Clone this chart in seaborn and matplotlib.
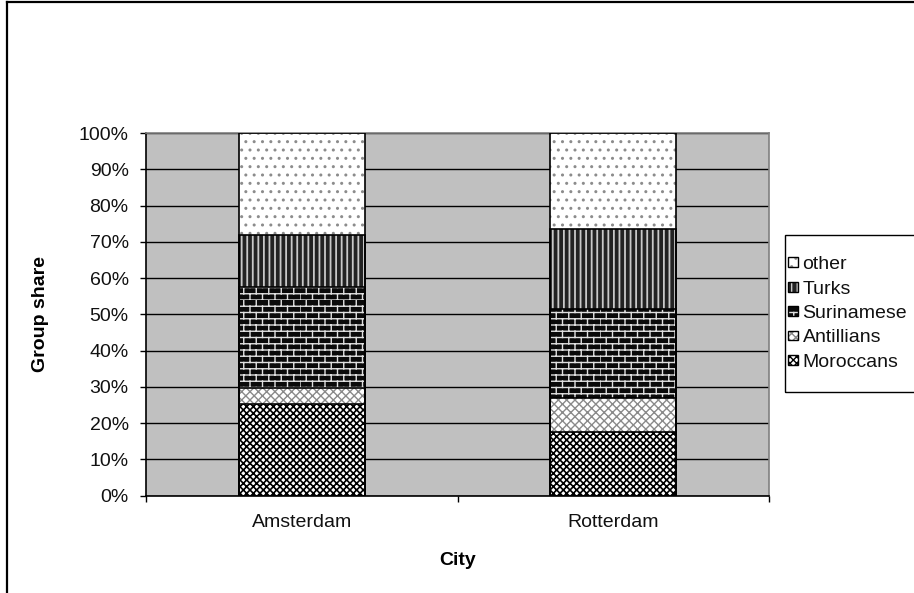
import warnings
import numpy as np
import pandas as pd
import matplotlib
matplotlib.use("Agg")
import matplotlib.pyplot as plt
import matplotlib.hatch as mhatch
from matplotlib.path import Path
from matplotlib.patches import Patch, Rectangle
from matplotlib.lines import Line2D
from matplotlib.legend_handler import HandlerBase
from matplotlib.ticker import PercentFormatter, FixedLocator
import seaborn as sns

warnings.filterwarnings("ignore")

# ---- data (share of each group, in percent) ----
cities = ["Amsterdam", "Rotterdam"]
groups = ["Moroccans", "Antillians", "Surinamese", "Turks", "other"]
moroccans = [25.3, 17.5]
antillians = [4.3, 9.4]
surinamese = [27.9, 24.7]
turks = [14.5, 21.8]
other = [28.0, 26.6]
y_ticks = [0, 10, 20, 30, 40, 50, 60, 70, 80, 90, 100]


# ---- a brick hatch ('b') for the Surinamese segments ----
class BrickHatch(mhatch.HatchPatternBase):
    rows = 16
    cols = 8

    def __init__(self, hatch, density):
        self.on = "b" in hatch
        self.num_vertices = (2 * self.rows + 2 * self.rows * self.cols) if self.on else 0

    def set_vertices_and_codes(self, vertices, codes):
        k = 0
        for i in range(self.rows):
            y = i / self.rows
            vertices[k] = (0.0, y)
            vertices[k + 1] = (1.0, y)
            codes[k] = Path.MOVETO
            codes[k + 1] = Path.LINETO
            k += 2
        for i in range(self.rows):
            y0 = i / self.rows
            y1 = (i + 1) / self.rows
            shift = 0.5 * (i % 2)
            for j in range(self.cols):
                x = ((j + shift) / self.cols) % 1.0
                vertices[k] = (x, y0)
                vertices[k + 1] = (x, y1)
                codes[k] = Path.MOVETO
                codes[k + 1] = Path.LINETO
                k += 2


mhatch._hatch_types.append(BrickHatch)

plt.rcParams["font.family"] = ["Liberation Sans", "DejaVu Sans"]
plt.rcParams["hatch.linewidth"] = 1.0

FS = 14

# face colour, hatch, hatch colour, hatch line width
styles = {
    "Moroccans": ("white", "xxxxx", "black", 1.2),
    "Antillians": ("white", "xxxx", "#8a8a8a", 1.0),
    "Surinamese": ("#0a0a0a", "b", "#e0e0e0", 1.0),
    "Turks": ("#222222", "|||", "#c8c8c8", 1.3),
    "other": ("white", "..", "#8c8c8c", 1.0),
}

df = pd.DataFrame({
    "City": cities,
    "Moroccans": moroccans,
    "Antillians": antillians,
    "Surinamese": surinamese,
    "Turks": turks,
    "other": other,
})
cum = df[groups].cumsum(axis=1)
for g in groups:
    df["cum_" + g] = cum[g]

W, H, DPI = 914, 593, 100
fig = plt.figure(figsize=(W / DPI, H / DPI), dpi=DPI)
ax = fig.add_axes([146 / W, 1 - 495.7 / H, (769 - 146) / W, (495.7 - 133) / H])
ax.set_facecolor("#c0c0c0")

# stacked bars: tallest cumulative first, lower segments drawn over it
outline_boxes = []
for g in reversed(groups):
    face, hatch, hcol, hlw = styles[g]
    n0 = len(ax.patches)
    sns.barplot(data=df, x="City", y="cum_" + g, color=face, width=0.405,
                saturation=1, errorbar=None, ax=ax, linewidth=0, zorder=2)
    for p in ax.patches[n0:]:
        p.set_facecolor(face)
        p.set_edgecolor(hcol)
        p.set_linewidth(0)
        p.set_hatch(hatch)
        if hasattr(p, "set_hatch_linewidth"):
            p.set_hatch_linewidth(hlw)
        outline_boxes.append((p.get_x(), p.get_y(), p.get_width(), p.get_height()))

for (x, y, w, h) in outline_boxes:
    ax.add_patch(Rectangle((x, y), w, h, fill=False, edgecolor="black",
                           linewidth=1.2, zorder=3))

ax.set_xlim(-0.5, 1.5)
ax.set_ylim(0, 100)
ax.yaxis.set_major_locator(FixedLocator(y_ticks))
ax.yaxis.set_major_formatter(PercentFormatter(100, decimals=0))
ax.yaxis.grid(True, color="black", linewidth=1.0)
ax.xaxis.grid(False)
ax.set_axisbelow(True)

ax.xaxis.set_minor_locator(FixedLocator([-0.5, 0.5, 1.5]))
ax.tick_params(axis="x", which="major", length=0, pad=13, labelsize=FS, colors="#111111")
ax.tick_params(axis="x", which="minor", length=4.5, width=1, direction="out", color="black")
ax.tick_params(axis="y", which="major", length=4.5, width=1, direction="out",
               pad=8, labelsize=FS, colors="black", labelcolor="#111111")

for side in ("left", "bottom"):
    ax.spines[side].set_color("black")
    ax.spines[side].set_linewidth(1.2)
for side in ("top", "right"):
    ax.spines[side].set_color("#808080")
    ax.spines[side].set_linewidth(1.2)

ax.set_xlabel("City", fontsize=FS, fontweight="bold")
ax.set_ylabel("Group share", fontsize=FS, fontweight="bold")
ax.xaxis.set_label_coords(0.5, -0.155)
ax.yaxis.set_label_coords(-0.155, 0.5)


# legend: small hatched squares with a black outline
class HatchBoxHandler(HandlerBase):
    def create_artists(self, legend, orig_handle, xdescent, ydescent,
                       width, height, fontsize, trans):
        side = min(width, height)
        x0 = -xdescent
        y0 = -ydescent + (height - side) / 2
        fill = Rectangle((x0, y0), side, side,
                         facecolor=orig_handle.get_facecolor(),
                         edgecolor=orig_handle.get_edgecolor(),
                         hatch=orig_handle.get_hatch(), linewidth=0,
                         transform=trans)
        box = Rectangle((x0, y0), side, side, fill=False,
                        edgecolor="black", linewidth=1.0, transform=trans)
        return [fill, box]


handles = []
for g in reversed(groups):
    face, hatch, hcol, hlw = styles[g]
    handles.append(Patch(facecolor=face, edgecolor=hcol, hatch=hatch, label=g))

leg = fig.legend(handles=handles, labels=list(reversed(groups)),
                 loc="center left", bbox_to_anchor=(788 / W, 1 - 313.5 / H),
                 bbox_transform=fig.transFigure, frameon=False,
                 fontsize=FS, handlelength=0.5, handleheight=0.5,
                 handletextpad=0.25, labelspacing=0.38, borderpad=0,
                 borderaxespad=0,
                 handler_map={Patch: HatchBoxHandler()})
for t in leg.get_texts():
    t.set_color("#111111")

# legend frame
fig.add_artist(Rectangle((785 / W, 1 - 392 / H), 200 / W, (392 - 235) / H,
                         transform=fig.transFigure, fill=False,
                         edgecolor="black", linewidth=1.0))

# chart-area frame (left and top edges)
fig.add_artist(Line2D([6.5 / W, 6.5 / W], [-0.1, 1 - 1.5 / H],
                      transform=fig.transFigure, color="black", linewidth=1.6))
fig.add_artist(Line2D([6.5 / W, 1.1], [1 - 1.5 / H, 1 - 1.5 / H],
                      transform=fig.transFigure, color="black", linewidth=1.6))

fig.savefig("out.png", dpi=DPI)
